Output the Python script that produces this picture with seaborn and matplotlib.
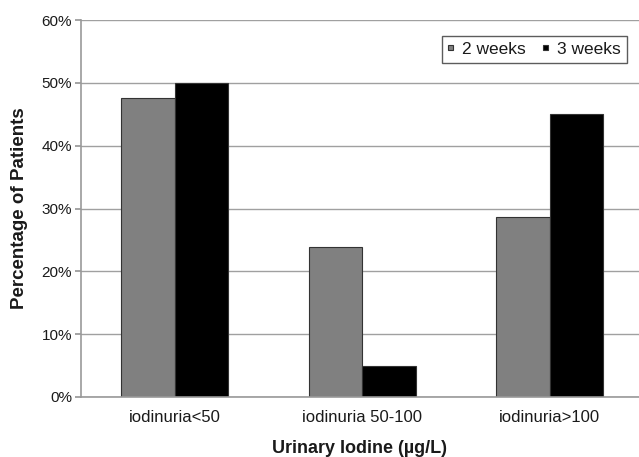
import matplotlib
matplotlib.use("Agg")
import matplotlib.pyplot as plt
import seaborn as sns
import pandas as pd
from matplotlib.ticker import FixedLocator, PercentFormatter

categories = ["iodinuria<50", "iodinuria 50-100", "iodinuria>100"]
series = ["2 weeks", "3 weeks"]
weeks2 = [47.6, 23.8, 28.6]
weeks3 = [50.0, 5.0, 45.0]
yticks = [0, 10, 20, 30, 40, 50, 60]

df = pd.DataFrame({
    "cat": categories * 2,
    "series": [series[0]] * 3 + [series[1]] * 3,
    "value": weeks2 + weeks3,
})

sns.set_theme(style="white")
plt.rcParams["font.family"] = ["Liberation Sans", "DejaVu Sans"]

W, H = 639, 457
left, right, top, bottom = 81, 643.5, 20, 397
fig = plt.figure(figsize=(W / 100, H / 100), dpi=100)
ax = fig.add_axes([left / W, 1 - bottom / H, (right - left) / W, (bottom - top) / H])

sns.barplot(data=df, x="cat", y="value", hue="series", order=categories,
            hue_order=series, palette=["#808080", "#000000"], width=0.57,
            edgecolor="#333333", linewidth=0.8, saturation=1, ax=ax, legend=True,
            errorbar=None)

ax.set_ylim(0, 60)
ax.set_xlim(-0.5, 2.5)
ax.set_yticks(yticks)
ax.yaxis.set_major_formatter(PercentFormatter(decimals=0))
ax.yaxis.grid(True, color="#a0a0a0", linewidth=1.0)
ax.set_axisbelow(True)
ax.xaxis.set_minor_locator(FixedLocator([0.5, 1.5]))
ax.tick_params(axis="x", which="major", length=0, labelsize=12, pad=9, labelcolor="#1a1a1a")
ax.tick_params(axis="x", which="minor", length=3, color="#999999", direction="out")
ax.tick_params(axis="y", length=4, color="#999999", labelsize=11, pad=2.5,
               direction="out", left=True, labelcolor="#1a1a1a")

for s in ["top", "right"]:
    ax.spines[s].set_visible(False)
for s in ["left", "bottom"]:
    ax.spines[s].set_color("#999999")
    ax.spines[s].set_linewidth(1.2)

ax.set_xlabel("Urinary Iodine (\u00b5g/L)", fontsize=13, fontweight="bold", color="#1a1a1a")
ax.xaxis.label.set_verticalalignment("top")
ax.xaxis.set_label_coords((359 - left) / (right - left), -(440 - bottom) / (bottom - top))
ax.set_ylabel("Percentage of Patients", fontsize=13.5, fontweight="bold",
              labelpad=10, color="#1a1a1a")

leg = ax.legend(loc="upper right",
                bbox_to_anchor=((627 - left) / (right - left), (bottom - 36) / (bottom - top)),
                ncol=2, frameon=True, fancybox=False, fontsize=12.5,
                handlelength=0.32, handleheight=0.07, handletextpad=0.5,
                columnspacing=1.0, borderpad=0.35, borderaxespad=0)
leg.get_frame().set_edgecolor("#333333")
leg.get_frame().set_linewidth(1.0)
for t in leg.get_texts():
    t.set_color("#1a1a1a")

fig.savefig("out.png", dpi=100)
